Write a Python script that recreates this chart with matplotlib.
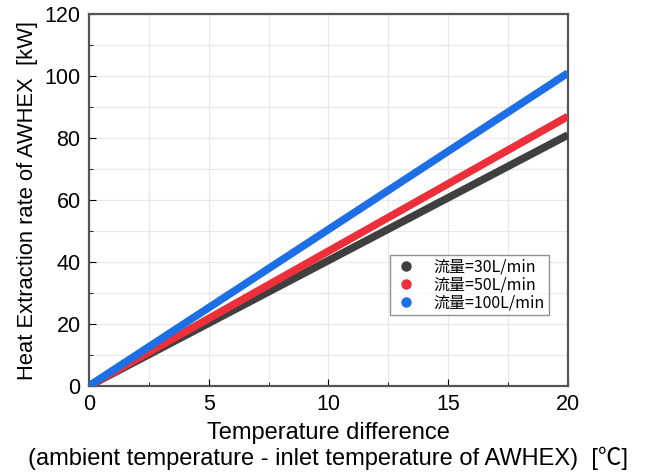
import matplotlib

matplotlib.use("Agg")
import matplotlib.pyplot as plt
from matplotlib.ticker import MultipleLocator

plt.rcParams["font.family"] = ["Liberation Sans", "Noto Sans CJK JP", "DejaVu Sans"]

# temperature difference [C] and heat extraction rate [kW] for each flow rate
temp_diff = [0, 20]
series_labels = ["流量=30L/min", "流量=50L/min", "流量=100L/min"]
heat_30 = [0, 81]
heat_50 = [0, 87]
heat_100 = [0, 101]
series_values = [heat_30, heat_50, heat_100]
series_colors = ["#3f3f3f", "#ec2f3a", "#1d6fe6"]

x_ticks = [0, 5, 10, 15, 20]
y_ticks = [0, 20, 40, 60, 80, 100, 120]

figure = plt.figure(figsize=(6.49, 4.73), dpi=100)
axis = figure.add_axes([0.137, 0.184, 0.738, 0.786])

for label, values, color in zip(series_labels, series_values, series_colors):
    axis.plot(temp_diff, values, color=color, lw=5.5, solid_capstyle="butt", zorder=3)
    axis.plot([], [], ls="none", marker="o", ms=6.5, color=color, label=label)

axis.set_xlim(0, 20)
axis.set_ylim(0, 120)
axis.set_xticks(x_ticks)
axis.set_yticks(y_ticks)
axis.xaxis.set_minor_locator(MultipleLocator(2.5))
axis.yaxis.set_minor_locator(MultipleLocator(10))
axis.grid(True, which="both", color="#e8e8e8", lw=0.9, zorder=0)
axis.set_axisbelow(True)
axis.tick_params(which="both", direction="in", top=False, right=False, labelsize=15.5, pad=6)
axis.tick_params(which="major", length=5)
axis.tick_params(which="minor", length=3)
for spine in axis.spines.values():
    spine.set_color("#555555")
    spine.set_linewidth(1.6)

axis.set_ylabel("Heat Extraction rate of AWHEX  [kW]", fontsize=15.8, labelpad=5)
axis.set_xlabel(
    "Temperature difference\n(ambient temperature - inlet temperature of AWHEX)  [℃]",
    fontsize=17,
    labelpad=5,
    linespacing=1.12,
)

legend = axis.legend(
    loc="lower right",
    bbox_to_anchor=(0.977, 0.169),
    prop={"family": ["Noto Sans CJK JP"], "size": 11.5},
    frameon=True,
    fancybox=False,
    edgecolor="#777777",
    handletextpad=0.9,
    borderpad=0.25,
    labelspacing=0.05,
    handlelength=1.6,
)
legend.get_frame().set_linewidth(1.0)

figure.savefig("out.png", dpi=100)
plt.close(figure)
